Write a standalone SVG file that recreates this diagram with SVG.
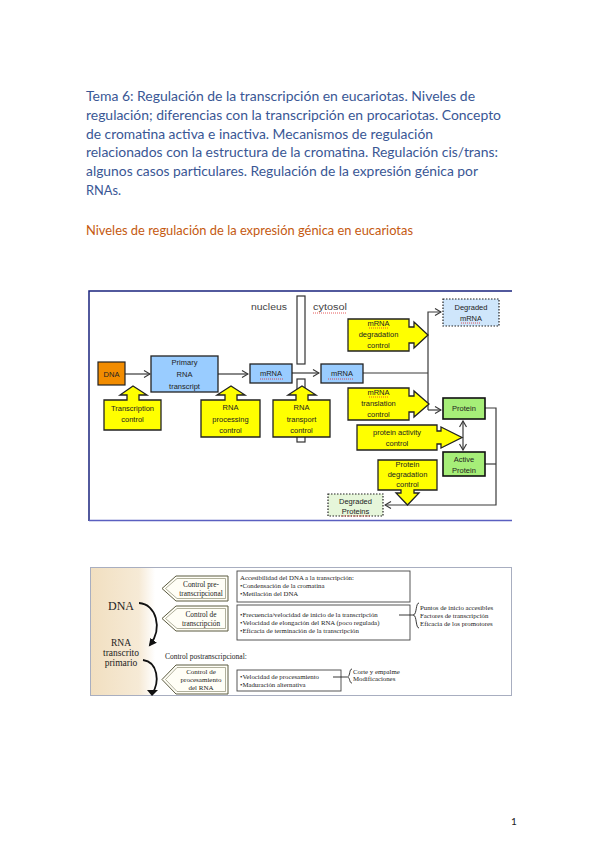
<svg xmlns="http://www.w3.org/2000/svg" width="599" height="848" viewBox="0 0 599 848">
<style>
.hd{font-family:Lato,"Open Sans",sans-serif;font-size:12.5px;fill:#3A5795}
.or{font-family:Lato,"Open Sans",sans-serif;font-size:12.5px;fill:#C55A11}
.t{font-family:"Liberation Sans",Arial,sans-serif;font-size:7.5px;fill:#222;text-anchor:middle}
.lb{font-family:"Liberation Sans",Arial,sans-serif;font-size:8.5px;fill:#444}
.yl{fill:#FFFF00;stroke:#222;stroke-width:1.3}
.bl{fill:#99CCFF;stroke:#222;stroke-width:1.3}
.gr{fill:#A6EE78;stroke:#111;stroke-width:1.6}
.ln{fill:none;stroke:#3a3a3a;stroke-width:1.2}
.sq{fill:none;stroke:#E03030;stroke-width:0.8;stroke-dasharray:1 1}
.mem{fill:#fff;stroke:#333;stroke-width:1.2}
.s{font-family:"Liberation Serif","Times New Roman",serif;fill:#222}
.bx{fill:#fff;stroke:#444;stroke-width:0.9}
.pent{fill:#FFFEF6;stroke:#5a5a40;stroke-width:1}
.pin{fill:none;stroke:#7a7a60;stroke-width:0.6}
.br{fill:none;stroke:#222;stroke-width:0.9}
</style>
<defs>
<marker id="ah" markerWidth="8" markerHeight="8" refX="7" refY="4" orient="auto" markerUnits="userSpaceOnUse">
<path d="M1,0.5 L7,4 L1,7.5" fill="none" stroke="#3a3a3a" stroke-width="1.2"/>
</marker>
<marker id="ahs" markerWidth="8" markerHeight="8" refX="1" refY="4" orient="auto" markerUnits="userSpaceOnUse">
<path d="M7,0.5 L1,4 L7,7.5" fill="none" stroke="#3a3a3a" stroke-width="1.2"/>
</marker>
<marker id="bk" markerWidth="10" markerHeight="10" refX="6" refY="5" orient="auto" markerUnits="userSpaceOnUse">
<path d="M0,1 L8,5 L0,9 Z" fill="#111"/>
</marker>
<linearGradient id="beige" x1="0" y1="0" x2="1" y2="0">
<stop offset="0" stop-color="#F1DFC0"/>
<stop offset="0.75" stop-color="#F6EAD6"/>
<stop offset="1" stop-color="#FFFFFF"/>
</linearGradient>
</defs>
<rect width="599" height="848" fill="#fff"/>

<g id="header">
<text class="hd" x="86" y="101" textLength="389" lengthAdjust="spacingAndGlyphs">Tema 6: Regulación de la transcripción en eucariotas. Niveles de</text>
<text class="hd" x="86" y="120" textLength="415" lengthAdjust="spacingAndGlyphs">regulación; diferencias con la transcripción en procariotas. Concepto</text>
<text class="hd" x="86" y="139" textLength="347" lengthAdjust="spacingAndGlyphs">de cromatina activa e inactiva. Mecanismos de regulación</text>
<text class="hd" x="86" y="157" textLength="412" lengthAdjust="spacingAndGlyphs">relacionados con la estructura de la cromatina. Regulación cis/trans:</text>
<text class="hd" x="86" y="176" textLength="392" lengthAdjust="spacingAndGlyphs">algunos casos particulares. Regulación de la expresión génica por</text>
<text class="hd" x="86" y="195" textLength="35" lengthAdjust="spacingAndGlyphs">RNAs.</text>
<text class="or" x="86" y="235" textLength="327" lengthAdjust="spacingAndGlyphs">Niveles de regulación de la expresión génica en eucariotas</text>
</g>

<!-- Diagram 1 -->
<g id="frame1">
<path d="M89,521 V291 H512" fill="none" stroke="#1a237e" stroke-width="1.5"/>
<line x1="89" y1="520.5" x2="512" y2="520.5" stroke="#5a5fc0" stroke-width="1.5"/>
</g>
<g id="membrane">
<rect class="mem" x="297" y="296" width="8" height="68"/>
<rect class="mem" x="297" y="379" width="8" height="63"/>
<text class="lb" x="251" y="310" textLength="36" lengthAdjust="spacingAndGlyphs">nucleus</text>
<text class="lb" x="313" y="310" textLength="34" lengthAdjust="spacingAndGlyphs">cytosol</text>
<path class="sq" d="M313,313 H347"/>
</g>

<g id="connectors">
<path class="ln" d="M125,374 H150" marker-end="url(#ah)"/>
<path class="ln" d="M218,374 H248" marker-end="url(#ah)"/>
<path class="ln" d="M292,373 H319" marker-end="url(#ah)"/>
<path class="ln" d="M363,373 H428"/>
<path class="ln" d="M428,410 V312 H441" marker-end="url(#ah)"/>
<path class="ln" d="M428,410 H441" marker-end="url(#ah)"/>
<path class="ln" d="M463,421 V450" marker-start="url(#ahs)" marker-end="url(#ah)"/>
<path class="ln" d="M485,408 H496 V505 H385" marker-end="url(#ah)"/>
<path class="ln" d="M485,464 H496"/>
</g>

<g id="dna"><rect x="98" y="362" width="27" height="23" fill="#F28C00" stroke="#222" stroke-width="1.2"/><text class="t" x="111.5" y="377">DNA</text></g>
<g id="primary"><rect class="bl" x="151" y="356" width="67" height="36"/><text class="t" x="184.5" y="365">Primary</text><text class="t" x="184.5" y="377">RNA</text><text class="t" x="184.5" y="389">transcript</text></g>
<g id="mrna1"><rect class="bl" x="250" y="364" width="42" height="19"/><text class="t" x="271" y="376">mRNA</text><path class="sq" d="M260,379 H283"/></g>
<g id="mrna2"><rect class="bl" x="321" y="364" width="42" height="19"/><text class="t" x="342" y="376">mRNA</text><path class="sq" d="M328,379 H354"/></g>
<g id="degmrna"><rect x="443" y="299" width="56" height="27" fill="#CFE6FB" stroke="#222" stroke-width="1.2" stroke-dasharray="1.5 1.5"/><text class="t" x="471" y="310">Degraded</text><text class="t" x="471" y="321">mRNA</text><path class="sq" d="M461,323 H481"/></g>
<g id="mrnadeg"><path class="yl" d="M348,319 H409 V327 H414 V322 L428,335 L414,348 V343 H409 V351 H348 Z"/><text class="t" x="378.5" y="326">mRNA</text><text class="t" x="378.5" y="337">degradation</text><text class="t" x="378.5" y="348">control</text><path class="sq" d="M369,328 H388"/></g>
<g id="mrnatrans"><path class="yl" d="M348,388 H409 V396 H414 V391 L429,404 L414,417 V412 H409 V420 H348 Z"/><text class="t" x="378.5" y="395">mRNA</text><text class="t" x="378.5" y="406">translation</text><text class="t" x="378.5" y="417">control</text><path class="sq" d="M369,397 H388"/></g>
<g id="protein"><rect class="gr" x="443" y="398" width="42" height="21"/><text class="t" x="464" y="411">Protein</text></g>
<g id="active"><rect class="gr" x="443" y="452" width="42" height="24"/><text class="t" x="464" y="462">Active</text><text class="t" x="464" y="473">Protein</text></g>
<g id="protact"><path class="yl" d="M357,425 H437 V431 H441 V427 L462,437.5 L441,448 V444 H437 V450 H357 Z"/><text class="t" x="397" y="435">protein activity</text><text class="t" x="397" y="446">control</text></g>
<g id="protdeg"><path class="yl" d="M378,460 H437 V490 H414 V493 H419 L407.5,505 L396,493 H401 V490 H378 Z"/><text class="t" x="407.5" y="467">Protein</text><text class="t" x="407.5" y="477">degradation</text><text class="t" x="407.5" y="487">control</text></g>
<g id="degprot"><rect x="328" y="494" width="55" height="22" fill="#E6F6DA" stroke="#222" stroke-width="1.2" stroke-dasharray="1.5 1.5"/><text class="t" x="355.5" y="504">Degraded</text><text class="t" x="355.5" y="514">Proteins</text><path class="sq" d="M341,516 H370"/></g>
<g id="transc"><path class="yl" d="M104,400 H127 V395 H120 L133,386 L147,395 H139 V400 H161 V430 H104 Z"/><text class="t" x="132.5" y="411">Transcription</text><text class="t" x="132.5" y="422">control</text></g>
<g id="rnaproc"><path class="yl" d="M201,400 H225 V395 H217 L231,386 L245,395 H237 V400 H260 V437 H201 Z"/><text class="t" x="230.5" y="410">RNA</text><text class="t" x="230.5" y="422">processing</text><text class="t" x="230.5" y="433">control</text></g>
<g id="rnatrans"><path class="yl" d="M273,400 H296 V395 H288 L302,386 L316,395 H308 V400 H330 V437 H273 Z"/><text class="t" x="301.5" y="410">RNA</text><text class="t" x="301.5" y="422">transport</text><text class="t" x="301.5" y="433">control</text></g>

<!-- Diagram 2 -->
<g id="frame2">
<rect x="91" y="568" width="64" height="127" fill="url(#beige)"/>
<rect x="90.5" y="567.5" width="421" height="128" fill="none" stroke="#A8AEC0" stroke-width="1"/>
</g>
<g id="leftcol">
<text class="s" x="121" y="610" font-size="12" text-anchor="middle">DNA</text>
<text class="s" x="121" y="646" font-size="9.5" text-anchor="middle">RNA</text>
<text class="s" x="121" y="656" font-size="9.5" text-anchor="middle">transcrito</text>
<text class="s" x="121" y="666" font-size="9.5" text-anchor="middle">primario</text>
<path d="M139,603 C156,604 163,628 150,645" fill="none" stroke="#111" stroke-width="1.8" marker-end="url(#bk)"/>
<path d="M143,660 C158,662 160,682 152,694" fill="none" stroke="#111" stroke-width="1.8"/>
<path d="M147,690 L158,690 L152,696 Z" fill="#111"/>
</g>
<g id="pent1"><path class="pent" d="M162,588.5 L176,576 H228 V601 H176 Z"/><path class="pin" d="M165.5,588.5 L177,578.5 H225.5 V598.5 H177 Z"/><text class="s" x="201" y="587" font-size="7.3" text-anchor="middle">Control pre-</text><text class="s" x="201" y="596" font-size="7.3" text-anchor="middle">transcripcional</text></g>
<g id="pent2"><path class="pent" d="M162,618.5 L176,606 H228 V631 H176 Z"/><path class="pin" d="M165.5,618.5 L177,608.5 H225.5 V628.5 H177 Z"/><text class="s" x="201" y="617" font-size="7.3" text-anchor="middle">Control de</text><text class="s" x="201" y="626" font-size="7.3" text-anchor="middle">transcripción</text></g>
<text class="s" x="165" y="659" font-size="7.5">Control postranscripcional:</text>
<g id="pent3"><path class="pent" d="M162,679.5 L176,665 H228 V694 H176 Z"/><path class="pin" d="M165.5,679.5 L177,667.5 H225.5 V691.5 H177 Z"/><text class="s" x="201" y="674" font-size="7" text-anchor="middle">Control de</text><text class="s" x="201" y="682" font-size="7" text-anchor="middle">procesamiento</text><text class="s" x="201" y="690" font-size="7" text-anchor="middle">del RNA</text></g>
<g id="box1"><rect class="bx" x="237" y="571" width="173" height="31"/>
<text class="s" x="240" y="580" font-size="6.8">Accesibilidad del DNA a la transcripción:</text>
<text class="s" x="240" y="588" font-size="6.8">•Condensación de la cromatina</text>
<text class="s" x="240" y="596" font-size="6.8">•Metilación del DNA</text></g>
<g id="box2"><rect class="bx" x="237" y="605" width="173" height="35"/>
<text class="s" x="240" y="617" font-size="6.8">•Frecuencia/velocidad de inicio de la transcripción</text>
<text class="s" x="240" y="625" font-size="6.8">•Velocidad de elongación del RNA (poco regulada)</text>
<text class="s" x="240" y="633" font-size="6.8">•Eficacia de terminación de la transcripción</text></g>
<g id="brace1">
<path d="M399,615 H414" stroke="#222" stroke-width="0.9"/>
<path class="br" d="M419,603 C415.5,603 417,614 413.5,615 C417,616 415.5,628 419,628"/>
<text class="s" x="420" y="610" font-size="6.8">Puntos de inicio accesibles</text>
<text class="s" x="420" y="618" font-size="6.8">Factores de transcripción</text>
<text class="s" x="420" y="626" font-size="6.8">Eficacia de los promotores</text></g>
<g id="box3"><rect class="bx" x="237" y="670" width="104" height="21"/>
<text class="s" x="240" y="679" font-size="6.8">•Velocidad de procesamiento</text>
<text class="s" x="240" y="687" font-size="6.8">•Maduración alternativa</text></g>
<g id="brace2">
<path d="M333,677 H347" stroke="#222" stroke-width="0.9"/>
<path class="br" d="M352,669 C349,669 350.5,676 347.5,677 C350.5,678 349,683 352,683"/>
<text class="s" x="353" y="674" font-size="6.8">Corte y empalme</text>
<text class="s" x="353" y="681" font-size="6.8">Modificaciones</text></g>

<text x="511" y="825" font-family="Lato,'Open Sans',sans-serif" font-size="10" fill="#222">1</text>
</svg>
